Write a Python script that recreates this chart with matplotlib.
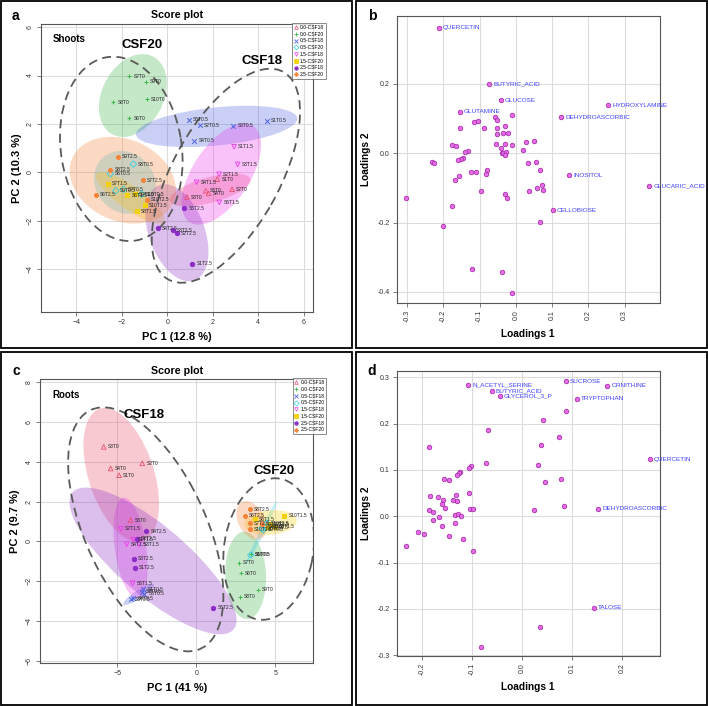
import numpy as np
import matplotlib
matplotlib.use('Agg')
import matplotlib.pyplot as plt
from matplotlib.patches import Ellipse, Rectangle
from matplotlib.lines import Line2D

plt.rcParams['font.family'] = ['Liberation Sans', 'DejaVu Sans']

# groups shared by both score plots
groups = ['0.0-CSF18', '0.0-CSF20', '0.5-CSF18', '0.5-CSF20',
          '1.5-CSF18', '1.5-CSF20', '2.5-CSF18', '2.5-CSF20']
group_colors = ['#EC4F6C', '#3DB54A', '#4F63E0', '#33CFE3',
                '#EE3BEE', '#F3D20A', '#8C2DC6', '#F5843A']
group_markers = ['^', '+', 'x', 'D', 'v', 's', '8', 'P']
group_filled = [False, True, True, False, False, True, True, True]

# score plot, shoots (PC1 / PC2)
shoot_names = ['S1T0', 'S2T0', 'S3T0', 'S4T0', 'S5T0',
               'S6T0', 'S7T0', 'S8T0', 'S9T0', 'S10T0',
               'S1T0.5', 'S2T0.5', 'S3T0.5', 'S4T0.5', 'S5T0.5',
               'S6T0.5', 'S7T0.5', 'S8T0.5', 'S9T0.5', 'S10T0.5',
               'S1T1.5', 'S2T1.5', 'S3T1.5', 'S4T1.5', 'S5T1.5',
               'S6T1.5', 'S7T1.5', 'S8T1.5', 'S9T1.5', 'S10T1.5',
               'S1T2.5', 'S2T2.5', 'S3T2.5', 'S4T2.5', 'S5T2.5',
               'S6T2.5', 'S7T2.5', 'S8T2.5', 'S9T2.5', 'S10T2.5']
shoot_pc1 = [2.20, 2.85, 0.87, 1.82, 1.69,
             -1.67, -1.67, -2.37, -0.95, -0.89,
             4.38, 1.44, 2.91, 1.19, 0.96,
             -2.50, -1.92, -1.49, -2.26, -1.13,
             2.94, 2.28, 3.10, 1.29, 2.29,
             -1.76, -2.61, -1.33, -1.43, -0.98,
             1.10, 0.43, 0.25, -0.41, 0.75,
             -3.13, -1.07, -2.50, -2.18, -0.89]
shoot_pc2 = [-0.28, -0.70, -1.02, -0.87, -0.76,
             2.23, 3.97, 2.90, 3.75, 3.02,
             2.14, 1.94, 1.92, 1.31, 2.18,
             -0.06, -0.70, 0.34, -0.76, -0.90,
             1.06, -0.08, 0.33, -0.41, -1.24,
             -0.95, -0.48, -1.61, -0.90, -1.35,
             -3.77, -2.52, -2.39, -2.30, -1.49,
             -0.92, -0.32, 0.10, 0.65, -1.14]

# score plot, roots (PC1 / PC2)
root_names = shoot_names
root_pc1 = [-4.89, -3.42, -5.86, -5.42, -4.16,
            2.81, 2.70, 2.76, 3.90, 3.44,
            -3.35, -3.46, -4.16, -3.99, -3.29,
            3.45, 4.14, 4.35, 4.24, 4.45,
            -3.99, -4.77, -3.61, -4.41, -4.03,
            3.71, 4.66, 4.98, 4.56, 5.57,
            -3.90, -3.78, -3.95, -3.16, 1.08,
            3.08, 3.40, 3.40, 4.14, 3.40]
root_pc2 = [3.32, 3.92, 4.75, 3.66, 1.07,
            -1.61, -1.09, -2.80, -2.43, -0.65,
            -2.41, -2.53, -2.92, -2.87, -2.65,
            -0.69, 0.65, 0.74, 0.57, 0.91,
            0.07, 0.62, -0.15, -0.15, -2.11,
            1.12, 0.86, 0.74, 0.70, 1.29,
            -1.34, 0.12, -0.89, 0.50, -3.34,
            1.29, 0.91, 1.61, 0.86, 0.60]
sample_group = [g for g in range(8) for _ in range(5)]

# loadings, shoots
shoot_load_names = ['QUERCETIN', 'BUTYRIC_ACID', 'GLUCOSE', 'GLUTAMINE', 'HYDROXYLAMINE',
                    'DEHYDROASCORBIC', 'INOSITOL', 'GLUCARIC_ACID', 'CELLOBIOSE']
shoot_load_1 = [-0.2126, -0.0745, -0.0423, -0.1555, 0.2549, 0.1251, 0.1472, 0.3681, 0.1012,
                -0.011, -0.0589, -0.0534, -0.1058, -0.116, -0.1555, -0.0883, -0.0515, -0.0313,
                -0.0359, -0.0534, -0.0212, 0.0497, 0.0267, -0.011, -0.0294, -0.0561, -0.0423,
                -0.1758, -0.1656, -0.1325, -0.1417, 0.0193, -0.0396, -0.035, -0.0285, -0.0313,
                -0.1454, -0.1528, -0.1601, -0.2328, -0.2264, 0.0322, 0.0543, 0.0653, -0.081,
                -0.0828, -0.1104, -0.1233, -0.1564, -0.1675, 0.0709, 0.0571, 0.0755, 0.035,
                -0.0975, -0.0313, -0.0239, -0.3037, -0.1758, -0.2006, 0.0672, -0.1205,
                -0.0377, -0.012]
shoot_load_2 = [0.3625, 0.201, 0.153, 0.120, 0.1385, 0.1038, -0.0635, -0.0942, -0.1644,
                0.1096, 0.1038, 0.0971, 0.0933, 0.0904, 0.0721, 0.074, 0.0721, 0.0788,
                0.0596, 0.0567, 0.0587, 0.0365, 0.0327, 0.025, 0.0269, 0.0269, 0.0163,
                0.024, 0.0221, 0.0077, 0.0038, 0.0087, 0.0, 0.0, 0.0038, -0.0058,
                -0.0125, -0.0154, -0.0192, -0.026, -0.0269, -0.0279, -0.025, -0.0481, -0.0481,
                -0.0587, -0.0529, -0.0529, -0.0644, -0.0779, -0.0904, -0.099, -0.1058, -0.1087,
                -0.1077, -0.1163, -0.1298, -0.1288, -0.1519, -0.2087, -0.1971, -0.3337,
                -0.3433, -0.4019]

# loadings, roots
root_load_names = ['N_ACETYL_SERINE', 'BUTYRIC_ACID', 'GLYCEROL_3_P', 'SUCROSE', 'ORNITHINE',
                   'TRYPTOPHAN', 'QUERCETIN', 'DEHYDROASCORBIC', 'TALOSE']
root_load_1 = [-0.1077, -0.0609, -0.0441, 0.0883, 0.1712, 0.1104, 0.2562, 0.1532, 0.1438,
               0.0876, 0.0415, -0.0689, 0.0736, 0.0375, -0.1866, -0.0729, 0.0314, -0.1017,
               -0.1064, -0.1244, -0.1264, -0.1311, 0.0789, -0.1565, -0.1472, 0.0462, -0.1064,
               -0.1846, -0.1331, -0.1692, -0.1391, -0.1592, -0.1298, -0.1599, -0.1545, 0.0836,
               0.0234, -0.105, -0.099, -0.1853, -0.1786, -0.1338, -0.1278, -0.1231, -0.1659,
               -0.1786, -0.1612, -0.1351, -0.2074, -0.1953, -0.1452, -0.1177, -0.2314,
               -0.0983, 0.0368, -0.0823]
root_load_2 = [0.2842, 0.2712, 0.2597, 0.2914, 0.282, 0.254, 0.123, 0.0165, -0.1971,
               0.2273, 0.2086, 0.1856, 0.1719, 0.154, 0.1489, 0.1151, 0.1115, 0.1094,
               0.1043, 0.0957, 0.0935, 0.0899, 0.0806, 0.0799, 0.0777, 0.0748, 0.0504,
               0.0446, 0.0468, 0.041, 0.036, 0.036, 0.0338, 0.0266, 0.018, 0.023,
               0.0144, 0.0151, 0.0158, 0.0129, 0.0094, 0.0036, 0.0043, 0.0, -0.0014,
               -0.0079, -0.0216, -0.0151, -0.0331, -0.0381, -0.0424, -0.0482, -0.0633,
               -0.0755, -0.2388, -0.2813]

# hand-drawn grey dashed outlines: (label, centre x, centre y, width, height, angle)
shoot_outlines = [('CSF20', -2.02, 0.97, 7.68, 5.30, 100.2),
                  ('CSF18', 2.58, -0.14, 9.96, 4.64, 58.7)]
root_outlines = [('CSF18', -3.2, 0.6, 13.96, 7.24, 123.8),
                 ('CSF20', 4.58, -0.39, 7.24, 5.60, 73.6)]

GRID = '#DCDCDC'


def style_axes(ax):
    for s in ax.spines.values():
        s.set_color('#555555')
        s.set_linewidth(0.8)
    ax.grid(True, color=GRID, lw=0.8)
    ax.set_axisbelow(True)
    ax.tick_params(length=3, width=0.6, color='#666666', labelsize=5,
                   labelcolor='#333333', pad=2)


def conf_ellipse(ax, x, y, color):
    cov = np.cov(x, y)
    vals, vecs = np.linalg.eigh(cov)
    order = vals.argsort()[::-1]
    vals, vecs = vals[order], vecs[:, order]
    angle = np.degrees(np.arctan2(vecs[1, 0], vecs[0, 0]))
    t = np.sqrt(5.991)
    w, h = 2 * t * np.sqrt(vals)
    ax.add_patch(Ellipse((np.mean(x), np.mean(y)), w, h, angle=angle,
                         facecolor=color, alpha=0.3, edgecolor='none', zorder=1))


def score_panel(ax, names, pc1, pc2, outlines, tissue, tissue_xy, group_label_xy,
                xlim, ylim, xticks, yticks, xlabel, ylabel):
    pc1 = np.array(pc1)
    pc2 = np.array(pc2)
    grp = np.array(sample_group)
    for g in range(8):
        m = grp == g
        conf_ellipse(ax, pc1[m], pc2[m], group_colors[g])
    for (lab, cx, cy, w, h, ang) in outlines:
        ax.add_patch(Ellipse((cx, cy), w, h, angle=ang, fill=False, edgecolor='#5a5a5a',
                             lw=1.3, linestyle=(0, (5, 3)), zorder=2))
    for g in range(8):
        m = grp == g
        if group_filled[g]:
            ax.scatter(pc1[m], pc2[m], s=11, marker=group_markers[g], color=group_colors[g],
                       linewidths=0.7, zorder=3)
        else:
            ax.scatter(pc1[m], pc2[m], s=11, marker=group_markers[g], facecolors='none',
                       edgecolors=group_colors[g], linewidths=0.6, zorder=3)
    for n, x, y in zip(names, pc1, pc2):
        ax.annotate(n, (x, y), xytext=(3, 0), textcoords='offset points', fontsize=3.5,
                    va='center', color='#222222', zorder=4)
    ax.text(tissue_xy[0], tissue_xy[1], tissue, fontsize=7, fontweight='bold', va='center')
    for (lab, *_), (tx, ty) in zip(outlines, group_label_xy):
        ax.text(tx, ty, lab, fontsize=9.5, fontweight='bold', ha='center', va='center')
    ax.set_xlim(xlim)
    ax.set_ylim(ylim)
    ax.set_xticks(xticks)
    ax.set_yticks(yticks)
    style_axes(ax)
    ax.tick_params(axis='y', labelrotation=90)
    for lbl in ax.get_yticklabels():
        lbl.set_va('center')
    ax.set_xlabel(xlabel, fontsize=8, fontweight='bold', labelpad=4)
    ax.set_ylabel(ylabel, fontsize=8, fontweight='bold', labelpad=4)
    ax.set_title('Score plot', fontsize=7.7, fontweight='bold', pad=4)
    handles = []
    for g in range(8):
        if group_filled[g]:
            h = Line2D([], [], ls='none', marker=group_markers[g], color=group_colors[g],
                       markersize=2.6, markeredgewidth=0.6)
        else:
            h = Line2D([], [], ls='none', marker=group_markers[g], markerfacecolor='none',
                       markeredgecolor=group_colors[g], markersize=2.6, markeredgewidth=0.5)
        handles.append(h)
    leg = ax.legend(handles, groups, loc='upper right', bbox_to_anchor=(1.048, 1.003),
                    fontsize=3.6, frameon=True, fancybox=False, handlelength=0.8,
                    handletextpad=0.4, labelspacing=0.35, borderpad=0.35, borderaxespad=0)
    leg.get_frame().set_edgecolor('#555555')
    leg.get_frame().set_linewidth(0.6)
    leg.set_zorder(5)


def loading_panel(ax, names, l1, l2, xlim, ylim, xticks, yticks):
    ax.scatter(l1, l2, s=11, facecolor='#E36BE3', edgecolor='#A024A8', linewidths=0.5, zorder=3)
    for n, x, y in zip(names, l1, l2):
        ax.annotate(n, (x, y), xytext=(3, 0), textcoords='offset points', fontsize=4.6,
                    va='center', color='#3F3FFF', zorder=4, annotation_clip=False)
    ax.set_xlim(xlim)
    ax.set_ylim(ylim)
    ax.set_xticks(xticks)
    ax.set_yticks(yticks)
    ax.set_xticklabels([f'{v:.1f}' for v in xticks])
    ax.set_yticklabels([f'{v:.1f}' for v in yticks])
    style_axes(ax)
    ax.tick_params(axis='x', labelrotation=90)
    ax.set_xlabel('Loadings 1', fontsize=7.3, fontweight='bold', labelpad=5)
    ax.set_ylabel('Loadings 2', fontsize=7.3, fontweight='bold', labelpad=5)


fig = plt.figure(figsize=(7.08, 7.06), dpi=100)
W, H = 708.0, 706.0


def axes_px(left, right, top, bottom):
    return fig.add_axes([left / W, 1 - bottom / H, (right - left) / W, (bottom - top) / H])


ax_a = axes_px(41, 313, 24, 312)
ax_b = axes_px(396.7, 659.7, 15.7, 303.3)
ax_c = axes_px(40, 313.3, 379.3, 663.3)
ax_d = axes_px(396.7, 659.7, 370.7, 656)

score_panel(ax_a, shoot_names, shoot_pc1, shoot_pc2, shoot_outlines, 'Shoots', (-5.04, 5.52),
            [(-1.11, 5.27), (4.17, 4.59)], (-5.55, 6.41), (-5.77, 6.13),
            [-4, -2, 0, 2, 4, 6], [-4, -2, 0, 2, 4, 6], 'PC 1 (12.8 %)', 'PC 2 (10.3 %)')
score_panel(ax_c, root_names, root_pc1, root_pc2, root_outlines, 'Roots', (-9.09, 7.36),
            [(-3.29, 6.34), (4.92, 3.55)], (-9.89, 7.4), (-6.14, 8.15),
            [-5, 0, 5], [-6, -4, -2, 0, 2, 4, 6, 8], 'PC 1 (41 %)', 'PC 2 (9.7 %)')

loading_panel(ax_b, shoot_load_names, shoot_load_1, shoot_load_2, (-0.329, 0.397),
              (-0.433, 0.397), [-0.3, -0.2, -0.1, 0.0, 0.1, 0.2, 0.3], [-0.4, -0.2, 0.0, 0.2])
loading_panel(ax_d, root_load_names, root_load_1, root_load_2, (-0.251, 0.276),
              (-0.3015, 0.314), [-0.2, -0.1, 0.0, 0.1, 0.2],
              [-0.3, -0.2, -0.1, 0.0, 0.1, 0.2, 0.3])

# panel frames and letters
for (x0, y0, x1, y1) in [(1, 1, 352, 348), (356, 1, 707, 348),
                         (1, 352, 352, 705), (356, 352, 707, 705)]:
    fig.add_artist(Rectangle((x0 / W, 1 - y1 / H), (x1 - x0) / W, (y1 - y0) / H,
                             transform=fig.transFigure, fill=False, edgecolor='black', lw=1.3))
for letter, (x, y) in zip('abcd', [(15, 16), (372, 16), (16, 371), (372, 371)]):
    fig.text(x / W, 1 - y / H, letter, fontsize=10, fontweight='bold', ha='center', va='center')

fig.savefig('out.png', dpi=100)
